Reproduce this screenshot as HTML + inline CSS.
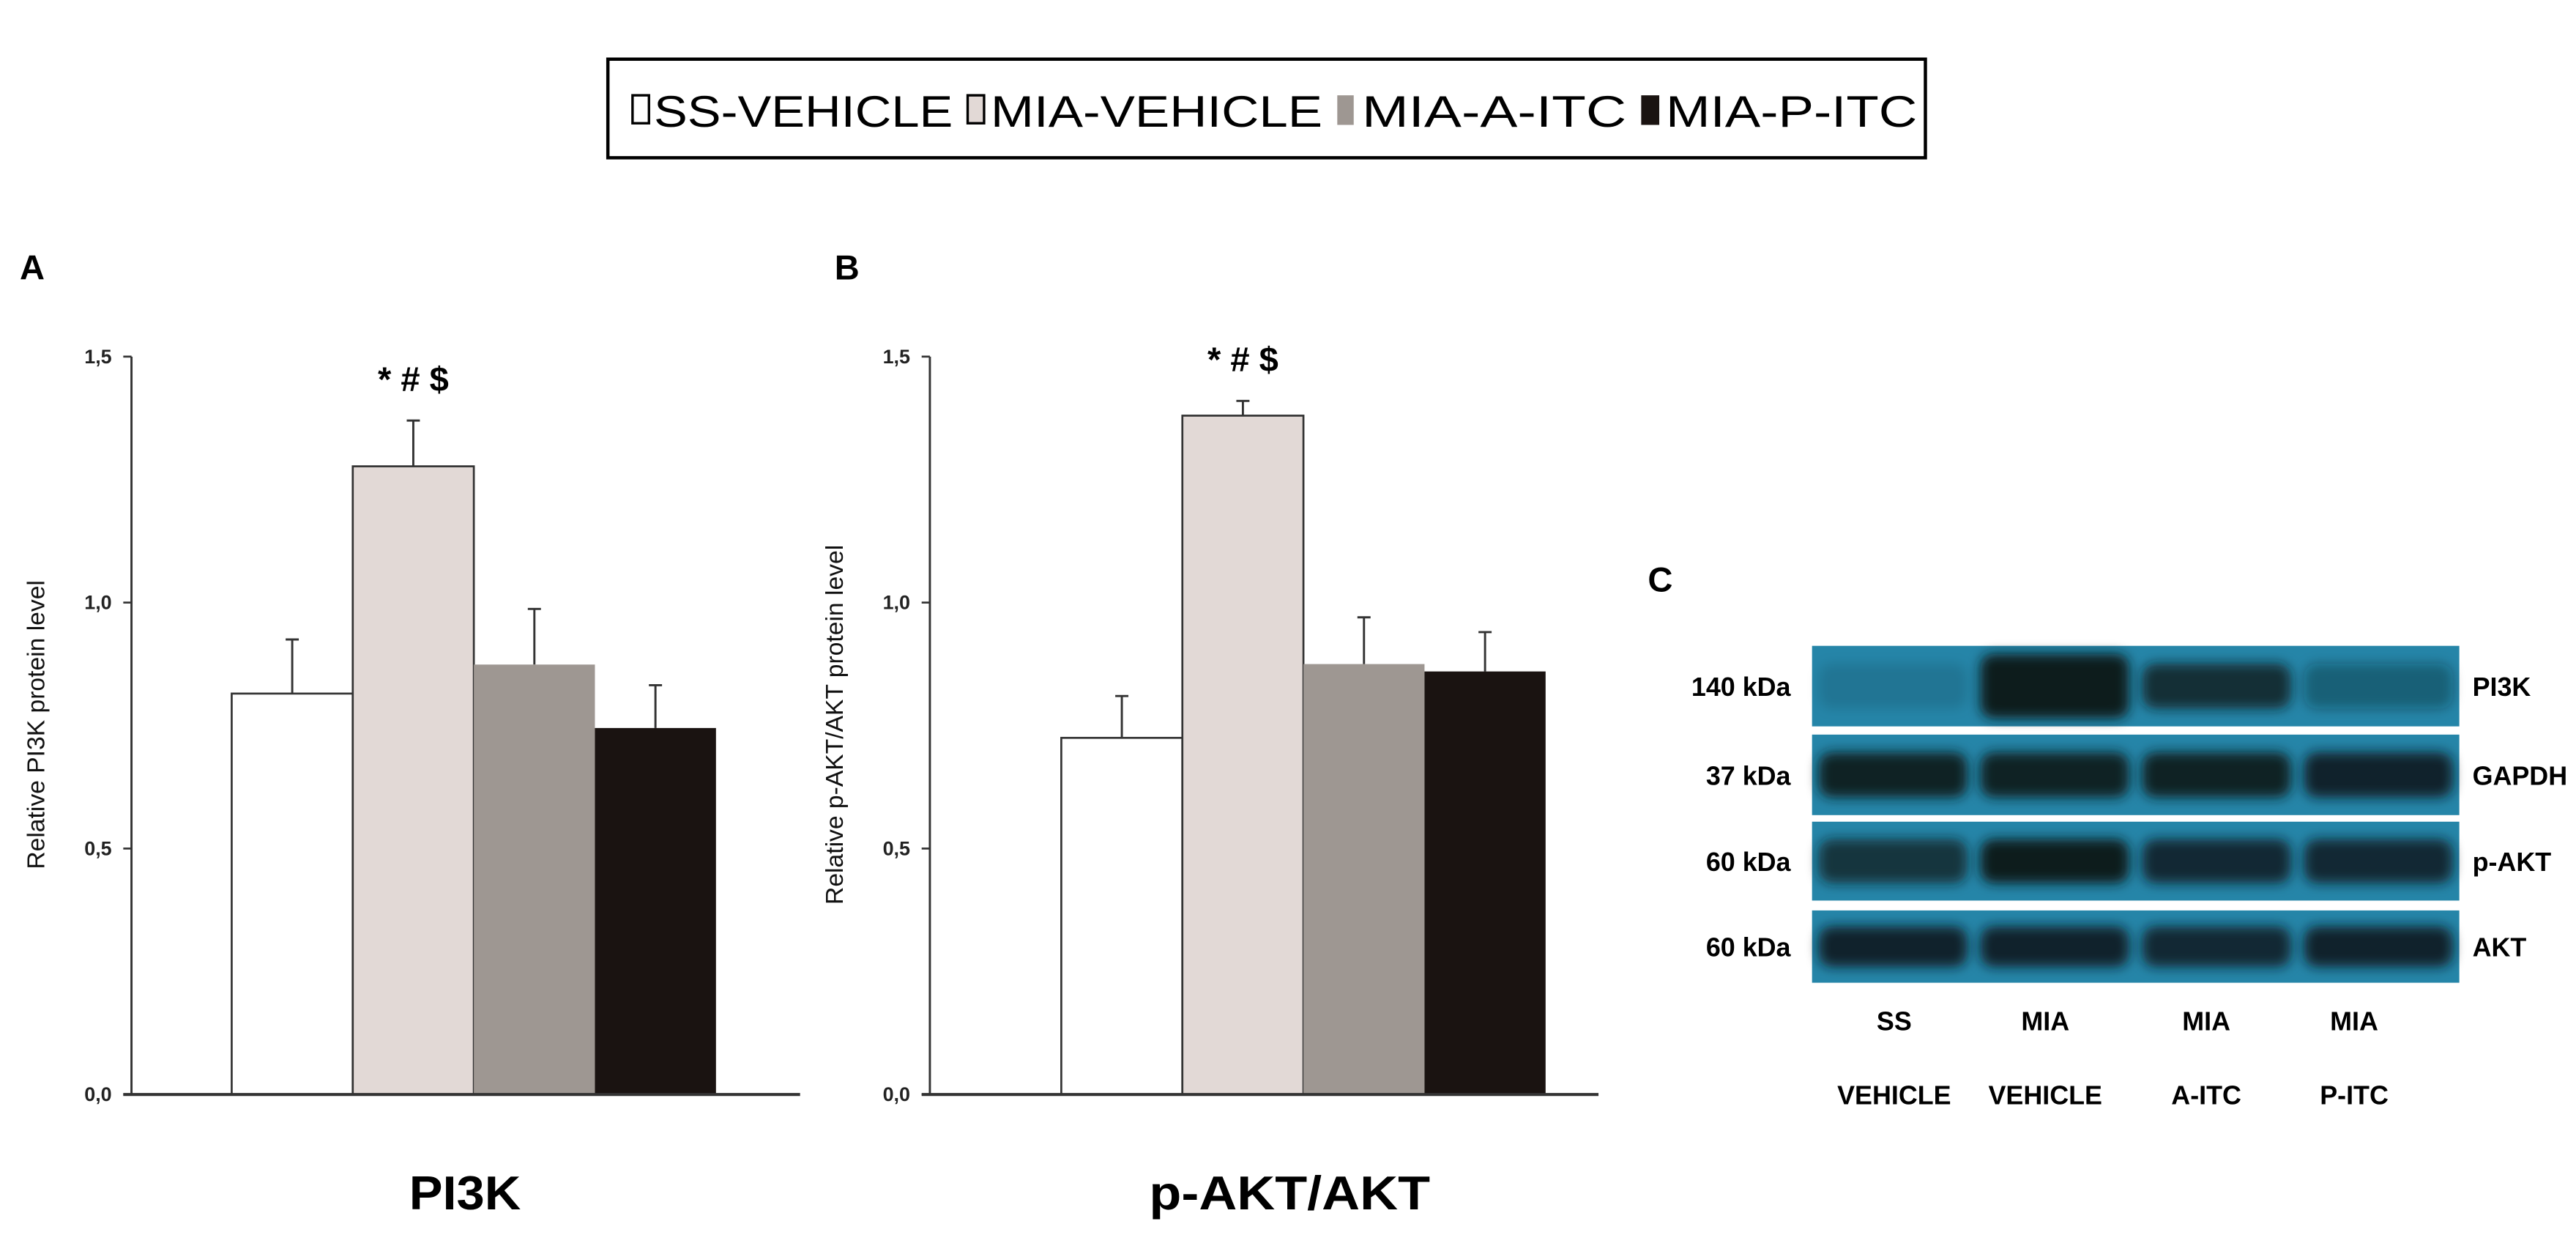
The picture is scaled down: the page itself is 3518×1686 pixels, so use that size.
<!DOCTYPE html>
<html><head><meta charset="utf-8"><style>
html,body{margin:0;padding:0;background:#fff;width:3518px;height:1686px;overflow:hidden}
svg{display:block;font-family:"Liberation Sans",Arial,sans-serif}
</style></head><body>
<svg id="fig" width="3518" height="1686" viewBox="0 0 1568 751.5" xmlns="http://www.w3.org/2000/svg">
<defs>
<filter id="blur" x="-20%" y="-50%" width="140%" height="200%"><feGaussianBlur stdDeviation="3.5"/></filter>
</defs>
<g>
<rect x="370" y="36" width="802" height="60" fill="#fff" stroke="#000" stroke-width="2"/>
<rect x="385" y="58" width="10" height="17" fill="#fff" stroke="#000" stroke-width="1.5"/>
<text x="398" y="77" font-size="27" textLength="182" lengthAdjust="spacingAndGlyphs">SS-VEHICLE</text>
<rect x="589" y="58" width="10" height="17" fill="#e2d9d6" stroke="#000" stroke-width="1.5"/>
<text x="603" y="77" font-size="27" textLength="202" lengthAdjust="spacingAndGlyphs">MIA-VEHICLE</text>
<rect x="814" y="58" width="10" height="18" fill="#9e9792"/>
<text x="829" y="77" font-size="27" textLength="161" lengthAdjust="spacingAndGlyphs">MIA-A-ITC</text>
<rect x="999" y="58" width="11" height="18" fill="#1a1311"/>
<text x="1014" y="77" font-size="27" textLength="153" lengthAdjust="spacingAndGlyphs">MIA-P-ITC</text>
</g>
<g id="chartA"></g>
<g id="chartB"></g>
<g id="blot"></g>
</svg>
<script>
const categories = ["SS-VEHICLE","MIA-VEHICLE","MIA-A-ITC","MIA-P-ITC"];
const colors = ["#ffffff","#e2d9d6","#9e9792","#1a1311"];
const pi3kValues = [0.815, 1.277, 0.874, 0.745];
const pi3kErrors = [0.11, 0.093, 0.113, 0.087];
const aktValues = [0.725, 1.38, 0.875, 0.86];
const aktErrors = [0.085, 0.03, 0.095, 0.08];
const yTicks = [0, 0.5, 1.0, 1.5];
const yTickLabels = ["0,0","0,5","1,0","1,5"];
const blotRows = ["PI3K","GAPDH","p-AKT","AKT"];
const blotKda = ["140 kDa","37 kDa","60 kDa","60 kDa"];
const bandIntensity = [[0.12,1.0,0.8,0.35],[0.95,0.95,0.95,0.9],[0.75,1.0,0.85,0.85],[0.9,0.9,0.85,0.9]];
const laneTop = ["SS","MIA","MIA","MIA"];
const laneBottom = ["VEHICLE","VEHICLE","A-ITC","P-ITC"];

const NS="http://www.w3.org/2000/svg";
function mk(tag, attrs, parent, text){const e=document.createElementNS(NS,tag);for(const k in attrs)e.setAttribute(k,attrs[k]);if(text!==undefined)e.textContent=text;parent.appendChild(e);return e;}

function drawChart(gid, axisX, axisEnd, firstBar, values, errors, letter, ylab, title, titleX, titleW, ylabX){
  const g=document.getElementById(gid);
  
  
  const y0=666, y15=217, yMax=1.5;
  const yS=v=>y0-(v/yMax)*(y0-y15);
  const bw=73.7;
  const xS=i=>firstBar+i*bw;
  const lt=mk('text',{x:letter[1],y:170,'font-size':21,'font-weight':'bold'},g,letter[0]);
  
  
  values.forEach((v,i)=>{
    const cx=xS(i)+bw/2;
    const el=mk('line',{x1:cx,x2:cx,y1:yS(v),y2:yS(v+errors[i]),stroke:'#333','stroke-width':1.3},g);
    
    
    mk('line',{x1:cx-4,x2:cx+4,y1:yS(v+errors[i]),y2:yS(v+errors[i]),stroke:'#333','stroke-width':1.3},g);
    const r=mk('rect',{x:xS(i),y:yS(v),width:bw,height:y0-yS(v),fill:colors[i],stroke:i<2?'#333':'none','stroke-width':1.2},g);
    
    
  });
  mk('line',{x1:axisX,x2:axisX,y1:y15,y2:y0,stroke:'#333','stroke-width':1.3},g);
  const xa=mk('line',{x1:axisX-5,x2:axisEnd,y1:y0,y2:y0,stroke:'#333','stroke-width':1.8},g);
  
  
  yTicks.forEach((t,i)=>{
    mk('line',{x1:axisX-5,x2:axisX,y1:yS(t),y2:yS(t),stroke:'#333','stroke-width':1.2},g);
    const tl=mk('text',{x:axisX-12,y:yS(t)+4,'font-size':12,'font-weight':'bold','text-anchor':'end',fill:'#222'},g,yTickLabels[i]);
    
    
  });
  const yl=mk('text',{x:0,y:0,'font-size':15,'text-anchor':'middle',fill:'#111',transform:`translate(${ylabX},441) rotate(-90)`},g,ylab);
  
  
  const tt=mk('text',{x:titleX-titleW/2,y:736,'font-size':29,'font-weight':'bold',textLength:titleW,lengthAdjust:'spacingAndGlyphs'},g,title);
  
  
  const st=mk('text',{x:xS(1)+bw/2,y:yS(values[1]+errors[1])-18,'font-size':21,'font-weight':'bold','text-anchor':'middle'},g,'* # $');
  
  
}
drawChart('chartA',80,487,141,pi3kValues,pi3kErrors,['A',12],'Relative PI3K protein level','PI3K',283,68,27);
drawChart('chartB',566,973,646,aktValues,aktErrors,['B',508],'Relative p-AKT/AKT protein level','p-AKT/AKT',785,171,513);

(function(){
  const g=document.getElementById('blot');
  const c=mk('text',{x:1003,y:360,'font-size':21,'font-weight':'bold'},g,'C');
  
  
  const rowY=[393,447,500,554], rowH=[49,49,48,44];
  const left=1103, right=1497, laneW=(right-left)/4;
  blotRows.forEach((name,r)=>{
    const rr=mk('rect',{x:left,y:rowY[r],width:right-left,height:rowH[r],fill:'#2585a8'},g);
    
    
    bandIntensity[r].forEach((a,i)=>{
      const hf = (r===0 && i===1) ? 0.8 : 0.56;
      const b=mk('rect',{x:left+i*laneW+4,y:rowY[r]+rowH[r]*(1-hf)/2,width:laneW-8,height:rowH[r]*hf,rx:8,fill:'#0a1a1c','fill-opacity':a,filter:'url(#blur)'},g);
      
      
    });
    const k=mk('text',{x:1090,y:rowY[r]+rowH[r]/2+6,'font-size':16,'font-weight':'bold','text-anchor':'end'},g,blotKda[r]);
    
    
    const n=mk('text',{x:1505,y:rowY[r]+rowH[r]/2+6,'font-size':16,'font-weight':'bold'},g,name);
    
    
  });
  const lc=[1153,1245,1343,1433];
  lc.forEach((x,i)=>{
    const t1=mk('text',{x:x,y:627,'font-size':16,'font-weight':'bold','text-anchor':'middle'},g,laneTop[i]);
    
    
    const t2=mk('text',{x:x,y:672,'font-size':16,'font-weight':'bold','text-anchor':'middle'},g,laneBottom[i]);
    
    
  });
})();
</script>
</body></html>
